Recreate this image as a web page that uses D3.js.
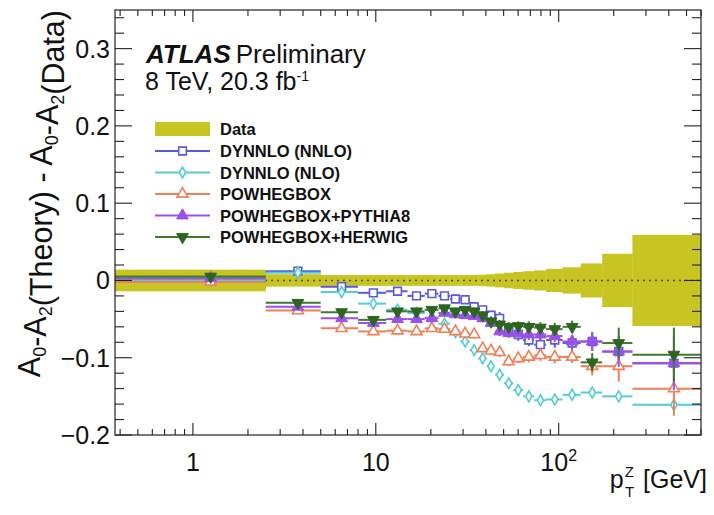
<!DOCTYPE html>
<html><head><meta charset="utf-8">
<script src="https://cdn.jsdelivr.net/npm/d3@7"></script>
<style>body{margin:0;background:#fff} svg{display:block} text{font-family:"Liberation Sans",Arial,Helvetica,sans-serif;fill:#111}</style>
</head><body><svg id="c" width="714" height="515"></svg>
<script>
// ---- data ----
const binEdges = [0, 2.5, 5, 8, 11.4, 14.9, 18.5, 22, 25.5, 29, 32.6, 36.4, 40.4, 44.9, 50.2, 56.4, 63.9, 73.4, 85.4, 105, 132, 173, 253, 600];
const dataBand = [0.014, 0.008, 0.007, 0.007, 0.007, 0.007, 0.007, 0.007, 0.007, 0.007, 0.007, 0.0075, 0.008, 0.009, 0.010, 0.011, 0.012, 0.013, 0.015, 0.017, 0.022, 0.0345, 0.059];
const dynnloNNLO = [0.000, 0.012, -0.008, -0.016, -0.014, -0.020, -0.017, -0.020, -0.024, -0.025, -0.034, -0.038, -0.045, -0.049, -0.066, -0.070, -0.077, -0.083, -0.077, -0.081, -0.079, -0.092, -0.107];
const dynnloNLO = [0.000, 0.010, -0.015, -0.030, -0.038, -0.042, -0.048, -0.056, -0.067, -0.079, -0.090, -0.101, -0.111, -0.122, -0.133, -0.142, -0.150, -0.155, -0.154, -0.148, -0.145, -0.150, -0.161];
const powheg = [-0.002, -0.039, -0.062, -0.066, -0.065, -0.066, -0.062, -0.063, -0.066, -0.069, -0.070, -0.088, -0.091, -0.093, -0.105, -0.101, -0.099, -0.097, -0.099, -0.099, -0.111, -0.111, -0.140];
const powhegPythia = [0.003, -0.034, -0.049, -0.055, -0.050, -0.050, -0.049, -0.042, -0.044, -0.045, -0.046, -0.049, -0.055, -0.066, -0.068, -0.068, -0.070, -0.070, -0.072, -0.079, -0.079, -0.092, -0.107];
const powhegHerwig = [0.005, -0.029, -0.041, -0.051, -0.040, -0.040, -0.038, -0.036, -0.040, -0.038, -0.040, -0.045, -0.053, -0.057, -0.060, -0.059, -0.060, -0.061, -0.063, -0.060, -0.106, -0.081, -0.096];
const errNNLO = [0.003, 0.003, 0.003, 0.003, 0.003, 0.003, 0.004, 0.004, 0.004, 0.004, 0.005, 0.005, 0.006, 0.008, 0.008, 0.008, 0.008, 0.009, 0.010, 0.010, 0.012, 0.018, 0.010];
const errNLO = [0.002, 0.002, 0.002, 0.002, 0.002, 0.002, 0.002, 0.002, 0.002, 0.002, 0.002, 0.002, 0.002, 0.002, 0.002, 0.002, 0.002, 0.002, 0.002, 0.002, 0.003, 0.003, 0.003];
const errPowheg = [0.003, 0.003, 0.003, 0.003, 0.003, 0.003, 0.004, 0.004, 0.004, 0.004, 0.005, 0.005, 0.005, 0.006, 0.006, 0.006, 0.007, 0.007, 0.008, 0.008, 0.012, 0.020, 0.035];
const seriesNames = ["DYNNLO (NNLO)", "DYNNLO (NLO)", "POWHEGBOX", "POWHEGBOX+PYTHIA8", "POWHEGBOX+HERWIG"];
const xMajorTicks = [1, 10, 100];
const xTickLabels = [["1", ""], ["10", ""], ["10", "2"]];
const yMajorTicks = [-0.2, -0.1, 0, 0.1, 0.2, 0.3];
const yTickLabels = ["\u22120.2", "\u22120.1", "0", "0.1", "0.2", "0.3"];

// ---- layout ----
const L = 115, R = 701, T = 10, B = 435;
const svg = d3.select("#c");
const x = d3.scaleLog().domain([0.375, 600]).range([L, R]);
const y = d3.scaleLinear().domain([-0.2, 0.35]).range([B, T]);
const xs = v => x(Math.max(v, x.domain()[0]));

const colors = ["#5c5ad8", "#52cdd3", "#f07e56", "#9a50ea", "#2d6520"];
const lineColors = ["#5c5ad8", "#52cdd3", "#f07e56", "#9a50ea", "#3f7a2e"];
const series = [dynnloNNLO, dynnloNLO, powheg, powhegPythia, powhegHerwig];
const errs = [errNNLO, errNLO, errPowheg, errPowheg, errPowheg];
const markers = [
  {type: d3.symbolSquare, size: 60, open: true, rot: 0},
  {type: d3.symbolDiamond, size: 34, open: true, rot: 0},
  {type: d3.symbolTriangle, size: 52, open: true, rot: 0},
  {type: d3.symbolTriangle, size: 60, open: false, rot: 0},
  {type: d3.symbolTriangle, size: 60, open: false, rot: 180}
];

svg.append("defs").append("clipPath").attr("id", "clip")
  .append("rect").attr("x", L).attr("y", T).attr("width", R - L).attr("height", B - T);
const plot = svg.append("g").attr("clip-path", "url(#clip)");

// data band
const bins = dataBand.map((h, i) => ({lo: binEdges[i], hi: binEdges[i + 1], h}));
plot.selectAll("rect.band").data(bins).join("rect").attr("class", "band")
  .attr("x", d => xs(d.lo)).attr("width", d => xs(d.hi) - xs(d.lo) + 0.3)
  .attr("y", d => y(d.h)).attr("height", d => y(-d.h) - y(d.h))
  .attr("fill", "#c8c422");

// zero line
plot.append("line").attr("x1", L).attr("x2", R).attr("y1", y(0)).attr("y2", y(0))
  .attr("stroke", "#4a4a20").attr("stroke-width", 1.6).attr("stroke-dasharray", "2,4");

function drawMarker(g, m, col, cx, cy) {
  g.append("path").attr("d", d3.symbol().type(m.type).size(m.size)())
    .attr("transform", `translate(${cx},${cy}) rotate(${m.rot})`)
    .attr("fill", m.open ? "#fff" : col).attr("stroke", col).attr("stroke-width", m.open ? 1.6 : 1);
}

series.forEach((vals, s) => {
  const g = plot.append("g");
  vals.forEach((v, i) => {
    const lo = binEdges[i], hi = binEdges[i + 1], mid = (lo + hi) / 2;
    g.append("line").attr("x1", xs(lo)).attr("x2", xs(hi)).attr("y1", y(v)).attr("y2", y(v))
      .attr("stroke", lineColors[s]).attr("stroke-width", 2);
    g.append("line").attr("x1", x(mid)).attr("x2", x(mid)).attr("y1", y(v - errs[s][i])).attr("y2", y(v + errs[s][i]))
      .attr("stroke", lineColors[s]).attr("stroke-width", 2);
    drawMarker(g, markers[s], colors[s], x(mid), y(v));
  });
});

// frame
svg.append("rect").attr("x", L).attr("y", T).attr("width", R - L).attr("height", B - T)
  .attr("fill", "none").attr("stroke", "#222").attr("stroke-width", 1.2);

// x ticks
const xMinor = [];
for (let e = -1; e <= 2; e++) for (let k = 1; k <= 9; k++) {
  const v = k * Math.pow(10, e);
  if (v >= x.domain()[0] && v <= x.domain()[1] && !xMajorTicks.includes(v)) xMinor.push(v);
}
const tk = svg.append("g").attr("stroke", "#222").attr("stroke-width", 1.1);
xMinor.forEach(v => {
  tk.append("line").attr("x1", x(v)).attr("x2", x(v)).attr("y1", B).attr("y2", B - 6);
  tk.append("line").attr("x1", x(v)).attr("x2", x(v)).attr("y1", T).attr("y2", T + 6);
});
xMajorTicks.forEach(v => {
  tk.append("line").attr("x1", x(v)).attr("x2", x(v)).attr("y1", B).attr("y2", B - 12);
  tk.append("line").attr("x1", x(v)).attr("x2", x(v)).attr("y1", T).attr("y2", T + 12);
});
xMajorTicks.forEach((v, i) => {
  const t = svg.append("text").attr("x", x(v)).attr("y", 471).attr("text-anchor", "middle")
    .attr("font-size", 25);
  t.append("tspan").text(xTickLabels[i][0]);
  if (xTickLabels[i][1]) t.append("tspan").attr("dy", -10).attr("font-size", 16).text(xTickLabels[i][1]);
});

// y ticks
for (let k = -10; k <= 17; k++) {
  const v = k * 0.02;
  const major = k % 5 === 0;
  const len = major ? 17 : 9;
  tk.append("line").attr("x1", L).attr("x2", L + len).attr("y1", y(v)).attr("y2", y(v));
  tk.append("line").attr("x1", R).attr("x2", R - len).attr("y1", y(v)).attr("y2", y(v));
}
yMajorTicks.forEach((v, i) => {
  svg.append("text").attr("x", 110).attr("y", y(v) + 9).attr("text-anchor", "end")
    .attr("font-size", 25).text(yTickLabels[i]);
});

// axis titles
const xt = svg.append("text").attr("x", 707).attr("y", 488).attr("text-anchor", "end").attr("font-size", 25);
xt.append("tspan").text("p");
xt.append("tspan").attr("font-size", 15).attr("dy", -11).attr("dx", 1).text("Z");
xt.append("tspan").attr("font-size", 15).attr("dy", 20).attr("dx", -9).text("T");
xt.append("tspan").attr("dy", -9).attr("dx", 9).text("[GeV]");

const yt = svg.append("text").attr("transform", "translate(40,10) rotate(-90)")
  .attr("text-anchor", "end").attr("font-size", 30.5);
const sub = (t, s) => { yt.append("tspan").text(t); yt.append("tspan").attr("font-size", 18).attr("dy", 6).text(s); yt.append("tspan").attr("dy", -6).text(""); };
sub("A", "0"); sub("-A", "2"); sub("(Theory) - A", "0"); sub("-A", "2");
yt.append("tspan").text("(Data)");

// ATLAS label
const at = svg.append("text").attr("x", 146).attr("y", 63).attr("font-size", 26);
at.append("tspan").attr("font-weight", "bold").attr("font-style", "italic").text("ATLAS");
at.append("tspan").attr("dx", 5).text("Preliminary");
const lum = svg.append("text").attr("x", 145).attr("y", 90).attr("font-size", 25);
lum.append("tspan").text("8 TeV, 20.3 fb");
lum.append("tspan").attr("font-size", 14).attr("dy", -9).text("-1");

// legend
const legY = [129, 151, 172.5, 194, 215.5, 237];
const lg = svg.append("g");
lg.append("rect").attr("x", 155).attr("y", legY[0] - 7).attr("width", 55).attr("height", 14).attr("fill", "#c8c422");
lg.append("text").attr("x", 220).attr("y", legY[0] + 6).attr("font-size", 16.5).attr("font-weight", "bold").text("Data");
seriesNames.forEach((n, s) => {
  const yy = legY[s + 1];
  lg.append("line").attr("x1", 155).attr("x2", 210).attr("y1", yy).attr("y2", yy)
    .attr("stroke", lineColors[s]).attr("stroke-width", 2);
  drawMarker(lg, markers[s], colors[s], 182.5, yy);
  lg.append("text").attr("x", 220).attr("y", yy + 6).attr("font-size", 16.5).attr("font-weight", "bold").text(n);
});
</script></body></html>
